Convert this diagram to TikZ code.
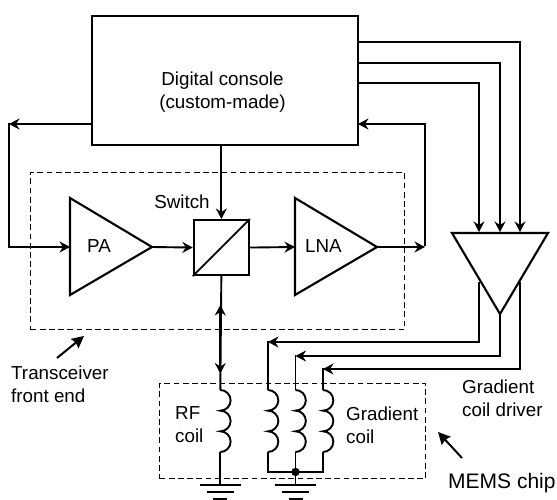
\documentclass[tikz,border=0pt]{standalone}
\usepackage{fontspec}
\setmainfont{Liberation Sans}
\usetikzlibrary{arrows.meta}
\tikzset{
 tip/.tip={Stealth[length=10.5pt,width=11pt,inset=3.5pt]},
 wire/.style={line width=1.9pt,line join=miter},
 arr/.style={wire,-tip},
 blk/.style={draw,line width=2.1pt,inner sep=0pt,line join=miter},
 dbox/.style={draw,line width=1.2pt,dash pattern=on 5.8pt off 3.4pt,inner sep=0pt},
 lab/.style={inner sep=0pt,font=\fontsize{18.8pt}{23pt}\selectfont,align=left},
 gndl/.style={line width=2.1pt},
 ptr/.style={line width=2pt,-{Stealth[length=12pt,width=12pt,inset=1.5pt]}},
}
\newcommand{\coilpath}[1]{(#1) arc[start angle=90,end angle=-90,radius=10.33pt] arc[start angle=90,end angle=-90,radius=10.33pt] arc[start angle=90,end angle=-90,radius=10.33pt]}
\begin{document}
\begin{tikzpicture}[x=1pt,y=-1pt]
\useasboundingbox (0,0) rectangle (557,500);
\fill[white] (0,0) rectangle (557,500);
% dashed boxes
\node[dbox,minimum width=374pt,minimum height=157pt,anchor=north west] (front) at (30,172) {};
\node[dbox,minimum width=266pt,minimum height=95pt,anchor=north west] (chip) at (159,383) {};
% blocks
\node[blk,minimum width=266pt,minimum height=129pt,anchor=north west] (console) at (90.5,15) {};
\node[lab,align=center] (consolet) at (222.5,92) {Digital console\\(custom-made)};
\node[blk,minimum width=55pt,minimum height=55pt,anchor=north west] (sw) at (192.8,219) {};
\draw[wire] (sw.south west) -- (sw.north east);
\coordinate (paA) at (70,198); \coordinate (paB) at (70,295); \coordinate (paC) at (152,247);
\draw[blk] (paA) -- (paC) -- (paB) -- cycle;
\coordinate (lnaA) at (295,198); \coordinate (lnaB) at (295,295); \coordinate (lnaC) at (377,247);
\draw[blk] (lnaA) -- (lnaC) -- (lnaB) -- cycle;
\node[lab] (pa) at (99,246) {PA};
\node[lab] (lna) at (323.5,246) {LNA};
\node[lab] (switch) at (182,202) {Switch};
\coordinate (drvA) at (452,233); \coordinate (drvB) at (548,233); \coordinate (drvC) at (500,314);
\draw[blk] (drvA) -- (drvB) -- (drvC) -- cycle;
% named junctions
\coordinate (paIn) at (70,247);
\coordinate (lnaIn) at (295,247);
\coordinate (lnaOut) at (425,247);
\coordinate (leftTop) at (9,124);
\coordinate (leftBot) at (9,247);
\coordinate (rightTop) at (425,124);
\coordinate (cL) at (90.5,124);
\coordinate (cR) at (358,124);
\coordinate (i1) at (520,232);
\coordinate (i2) at (500,232);
\coordinate (i3) at (479,232);
\coordinate (o1) at (479,282);
\coordinate (o3) at (520,282);
\coordinate (c1) at (268,390); \coordinate (c2) at (295.5,390); \coordinate (c3) at (323,390); \coordinate (c0) at (220.3,390);
\coordinate (e1) at (268,452); \coordinate (e2) at (295.5,452); \coordinate (e3) at (323,452); \coordinate (e0) at (220.3,452);
\coordinate (j) at (295.5,472);
\coordinate (g0) at (220.3,485); \coordinate (g1) at (295.5,485);
% console wires
\draw[arr] (console.east |- 0,42) -| (i1);
\draw[arr] (console.east |- 0,63) -| (i2);
\draw[arr] (console.east |- 0,83) -| (i3);
\draw[arr] (cL) -- (leftTop);
\draw[wire] ([yshift=.95pt]leftTop) -- (leftBot);
\draw[arr] ([xshift=-.95pt]leftBot) -- (paIn);
\draw[arr] (sw.north |- console.south) -- (sw.north);
\draw[arr] (paC) -- (sw.west);
\draw[arr] (sw.east) -- (lnaIn);
\draw[arr] (lnaC) -- (lnaOut);
\draw[wire] ([yshift=.95pt]lnaOut) -- (rightTop);
\draw[arr] ([xshift=.95pt]rightTop) -- (cR);
% rf line
\draw[wire] (sw.south) -- (c0);
\draw[arr] (220.3,340) -- (220.3,305);
\draw[arr] (220.3,340) -- (220.3,373.5);
% coils
\draw[wire] \coilpath{c0};
\draw[wire] \coilpath{c1};
\draw[wire] \coilpath{c2};
\draw[wire] \coilpath{c3};
\draw[wire] (e0) -- (g0);
% driver outputs
\draw[arr] (o1) |- (268,342);
\draw[wire] (268,341) -- (c1);
\draw[arr] (drvC) |- (295.5,356);
\draw[wire] (295.5,355) -- (c2);
\draw[arr] (o3) |- (323,369);
\draw[wire] (323,368) -- (c3);
\draw[wire] (e1) |- (j) -| (e3);
\draw[wire] (e2) -- (g1);
\fill (j) circle (4.2pt);
% grounds
\foreach \g in {g0,g1}{
 \draw[gndl] ([xshift=-20.5pt]\g) -- ([xshift=20.5pt]\g);
 \draw[gndl] ([xshift=-13.5pt,yshift=-7pt]\g) -- ([xshift=13.5pt,yshift=-7pt]\g);
 \draw[gndl] ([xshift=-7pt,yshift=-14pt]\g) -- ([xshift=7pt,yshift=-14pt]\g);
}
% labels
\node[lab,anchor=west] (rf) at (175,425) {RF\\coil};
\node[lab,anchor=west] (grad) at (346,425) {Gradient\\coil};
\node[lab,anchor=west] (tr) at (11,384) {Transceiver\\front end};
\node[lab,anchor=west] (gcd) at (462,398) {Gradient\\coil driver};
\node[lab,anchor=west,font=\fontsize{21pt}{25pt}\selectfont] (mems) at (448,483) {MEMS chip};
\coordinate (a1) at (57,358); \coordinate (a1e) at (84,336);
\coordinate (a2) at (462,458); \coordinate (a2e) at (438,432);
\draw[ptr] (a1) -- (a1e);
\draw[ptr] (a2) -- (a2e);
\end{tikzpicture}
\end{document}
